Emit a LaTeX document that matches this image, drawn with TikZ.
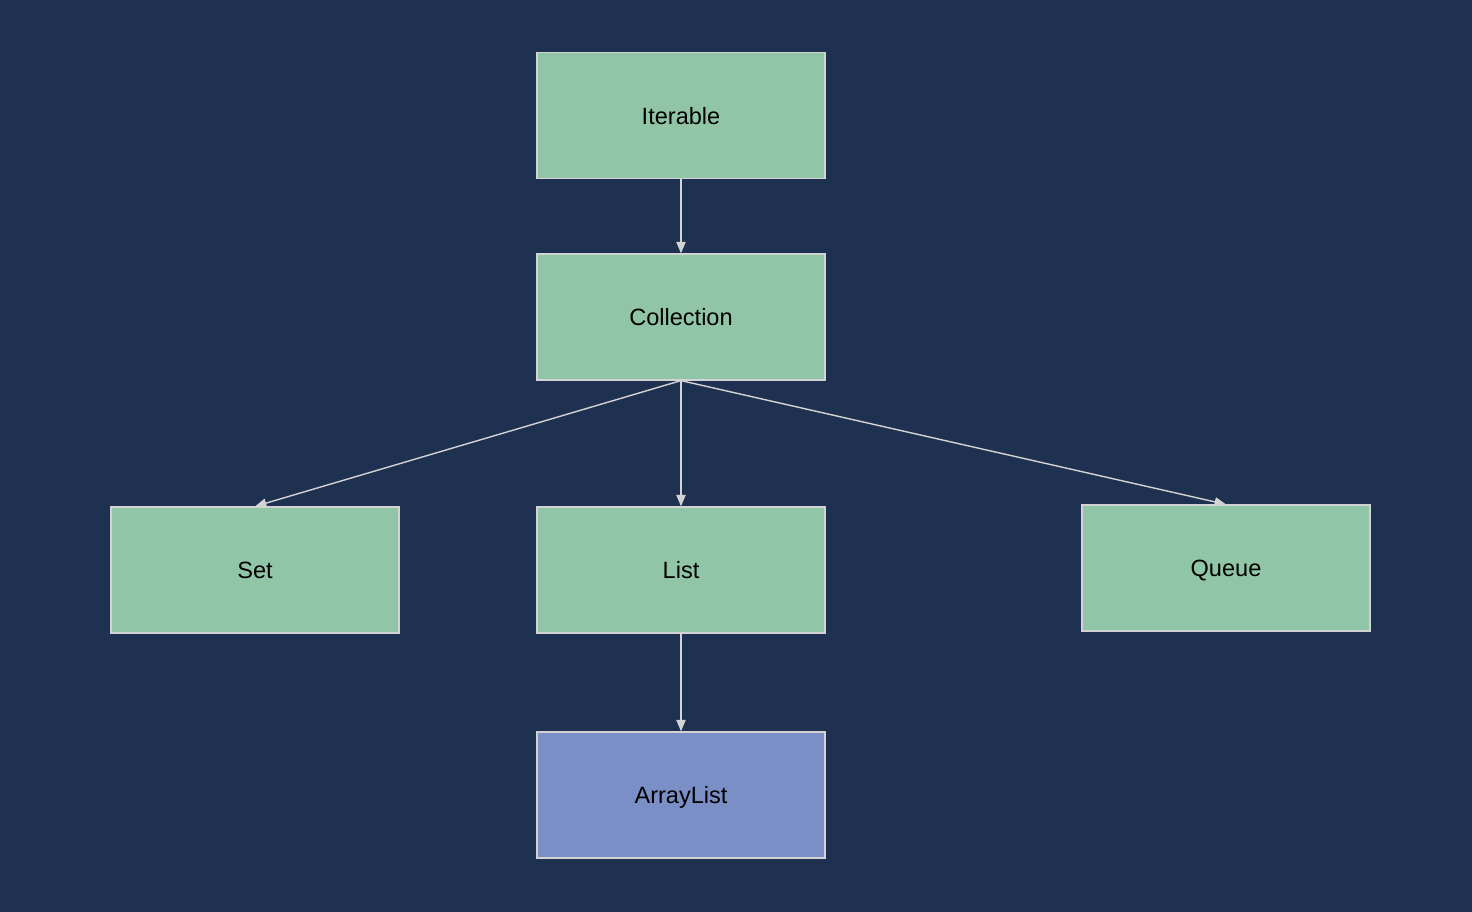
\documentclass[tikz,border=0pt]{standalone}
\usepackage{fontspec}
\setmainfont{Liberation Sans}
\usetikzlibrary{arrows.meta}
\definecolor{bg}{HTML}{1E3150}
\definecolor{gfill}{HTML}{90C5A7}
\definecolor{bfill}{HTML}{7B8FC7}
\definecolor{edge}{HTML}{D3D3D3}
\tikzset{
  box/.style={draw=edge, line width=0.7pt, fill=gfill, minimum width=5.76cm, minimum height=2.52cm, inner sep=0pt, text depth=0pt, font=\fontsize{13.4}{16}\selectfont, text=black},
  bluebox/.style={box, fill=bfill},
  link/.style={draw=edge, line width=0.8pt, -{Triangle[length=6.5pt,width=5.2pt]}}
}
\begin{document}
\begin{tikzpicture}[x=0.02cm,y=-0.02cm]
\fill[bg] (0,0) rectangle (1472,912);
\useasboundingbox (0,0) rectangle (1472,912);
\node[box] (it) at (681,115.5) {Iterable};
\node[box] (co) at (681,317) {Collection};
\node[box] (set) at (255,570) {Set};
\node[box] (li) at (681,570) {List};
\node[box] (qu) at (1226,568) {Queue};
\node[bluebox] (al) at (681,795) {ArrayList};
\draw[link] (it.south) -- (co.north);
\draw[link] (co.south) -- (set.north);
\draw[link] (co.south) -- (li.north);
\draw[link] (co.south) -- (qu.north);
\draw[link] (li.south) -- (al.north);
\end{tikzpicture}
\end{document}
